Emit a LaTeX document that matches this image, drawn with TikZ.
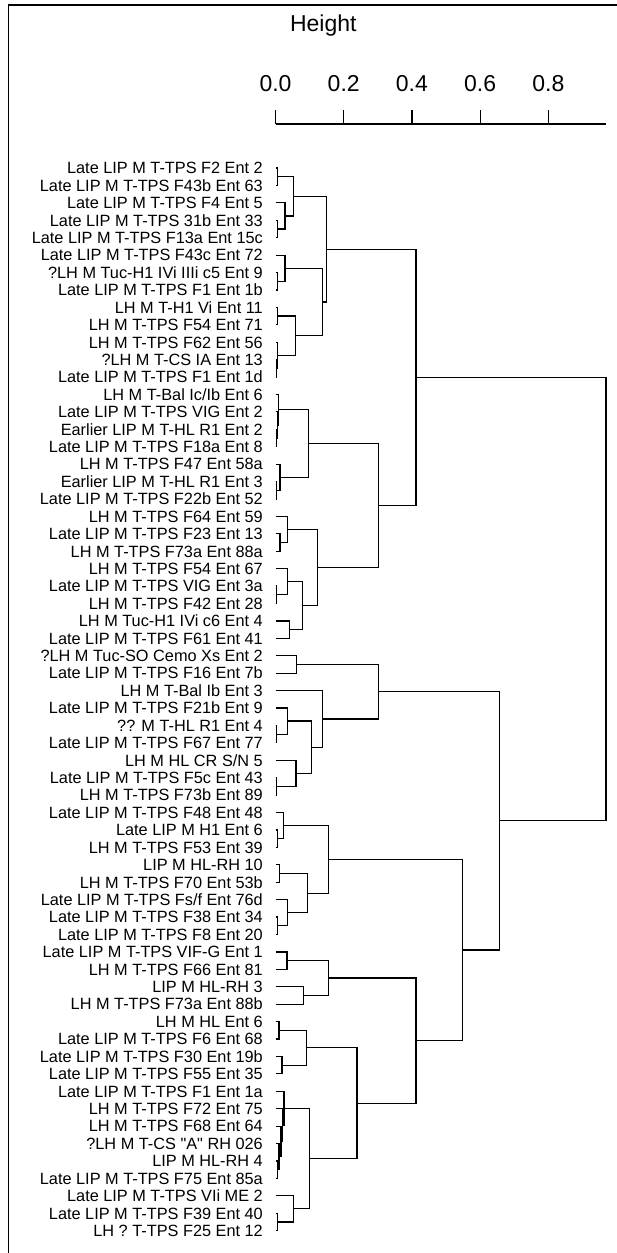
\documentclass[tikz,border=0pt]{standalone}
\usepackage{fontspec}
\setmainfont{Liberation Sans}[Ligatures=TeXOff]
\usepackage{tikz}
\usetikzlibrary{positioning, calc}
\tikzset{
  daun/.style={anchor=east, inner xsep=12.5pt, inner ysep=0pt,
    text height=11.6pt, text depth=0pt, font=\fontsize{16.3}{19}\selectfont},
  cabang/.style={line width=1.2pt, black},
  sumbu/.style={line width=1.2pt, black},
  angka/.style={inner sep=0pt, font=\fontsize{23}{28}\selectfont},
  bingkai/.style={line width=1.8pt, black}
}
\newcommand{\gabung}[4]{%
  \path let \p1=(#2), \p2=(#3) in coordinate (#1) at ({275.5pt+341pt*#4}, {(\y1+\y2)/2});
  \draw[cabang] (#2) -| (#1);
  \draw[cabang] (#3) -| (#1);}

\begin{document}
\begin{tikzpicture}[x=1pt, y=1pt, node distance=17.42pt]
  \useasboundingbox (0,0) rectangle (617,-1253);
  \draw[bingkai] (617,-5) -- (8.5,-5) -- (8.5,-1253);

  \node[angka] (judul) at (323.3,-26) {Height};
  \node[angka] (h0) at (275.5,-83.3) {0.0};
  \node[angka] (h2) at (343.7,-83.3) {0.2};
  \node[angka] (h4) at (411.9,-83.3) {0.4};
  \node[angka] (h6) at (480.1,-83.3) {0.6};
  \node[angka] (h8) at (548.3,-83.3) {0.8};
  \coordinate (s0) at (275.5,-124);
  \coordinate (s1) at (606,-124);
  \draw[sumbu] (s0) -- (s1);
  \draw[sumbu] (s0) -- ++(0,14);
  \draw[sumbu] (343.7,-124) -- ++(0,14);
  \draw[sumbu] (411.9,-124) -- ++(0,14);
  \draw[sumbu] (480.1,-124) -- ++(0,14);
  \draw[sumbu] (548.3,-124) -- ++(0,14);

  \node[daun] (d1) at (275.5,-168) {Late LIP M T-TPS F2 Ent 2};
  \node[below=of d1.east, daun] (d2) {Late LIP M T-TPS F43b Ent 63};
  \node[below=of d2.east, daun] (d3) {Late LIP M T-TPS F4 Ent 5};
  \node[below=of d3.east, daun] (d4) {Late LIP M T-TPS 31b Ent 33};
  \node[below=of d4.east, daun] (d5) {Late LIP M T-TPS F13a Ent 15c};
  \node[below=of d5.east, daun] (d6) {Late LIP M T-TPS F43c Ent 72~};
  \node[below=of d6.east, daun] (d7) {?LH M Tuc-H1 IVi IIIi c5 Ent 9};
  \node[below=of d7.east, daun] (d8) {Late LIP M T-TPS F1 Ent 1b};
  \node[below=of d8.east, daun] (d9) {LH M T-H1 Vi Ent 11};
  \node[below=of d9.east, daun] (d10) {LH M T-TPS F54 Ent 71~};
  \node[below=of d10.east, daun] (d11) {LH M T-TPS F62 Ent 56};
  \node[below=of d11.east, daun] (d12) {?LH M T-CS IA Ent 13};
  \node[below=of d12.east, daun] (d13) {Late LIP M T-TPS F1 Ent 1d};
  \node[below=of d13.east, daun] (d14) {LH M T-Bal Ic/Ib Ent 6};
  \node[below=of d14.east, daun] (d15) {Late LIP M T-TPS VIG Ent 2};
  \node[below=of d15.east, daun] (d16) {Earlier LIP M T-HL R1 Ent 2};
  \node[below=of d16.east, daun] (d17) {Late LIP M T-TPS F18a Ent 8};
  \node[below=of d17.east, daun] (d18) {LH M T-TPS F47 Ent 58a~};
  \node[below=of d18.east, daun] (d19) {Earlier LIP M T-HL R1 Ent 3};
  \node[below=of d19.east, daun] (d20) {Late LIP M T-TPS F22b Ent 52~};
  \node[below=of d20.east, daun] (d21) {LH M T-TPS F64 Ent 59};
  \node[below=of d21.east, daun] (d22) {Late LIP M T-TPS F23 Ent 13};
  \node[below=of d22.east, daun] (d23) {LH M T-TPS F73a Ent 88a};
  \node[below=of d23.east, daun] (d24) {LH M T-TPS F54 Ent 67};
  \node[below=of d24.east, daun] (d25) {Late LIP M T-TPS VIG Ent 3a~};
  \node[below=of d25.east, daun] (d26) {LH M T-TPS F42 Ent 28};
  \node[below=of d26.east, daun] (d27) {LH M Tuc-H1 IVi c6 Ent 4~};
  \node[below=of d27.east, daun] (d28) {Late LIP M T-TPS F61 Ent 41};
  \node[below=of d28.east, daun] (d29) {?LH M Tuc-SO Cemo Xs Ent 2};
  \node[below=of d29.east, daun] (d30) {Late LIP M T-TPS F16 Ent 7b};
  \node[below=of d30.east, daun] (d31) {LH M T-Bal Ib Ent 3};
  \node[below=of d31.east, daun] (d32) {Late LIP M T-TPS F21b Ent 9};
  \node[below=of d32.east, daun] (d33) {?? M T-HL R1 Ent 4};
  \node[below=of d33.east, daun] (d34) {Late LIP M T-TPS F67 Ent 77~};
  \node[below=of d34.east, daun] (d35) {LH M HL CR S/N 5};
  \node[below=of d35.east, daun] (d36) {Late LIP M T-TPS F5c Ent 43~};
  \node[below=of d36.east, daun] (d37) {LH M T-TPS F73b Ent 89};
  \node[below=of d37.east, daun] (d38) {Late LIP M T-TPS F48 Ent 48};
  \node[below=of d38.east, daun] (d39) {Late LIP M H1 Ent 6};
  \node[below=of d39.east, daun] (d40) {LH M T-TPS F53 Ent 39~};
  \node[below=of d40.east, daun] (d41) {LIP M HL-RH 10};
  \node[below=of d41.east, daun] (d42) {LH M T-TPS F70 Ent 53b~};
  \node[below=of d42.east, daun] (d43) {Late LIP M T-TPS Fs/f Ent 76d~};
  \node[below=of d43.east, daun] (d44) {Late LIP M T-TPS F38 Ent 34};
  \node[below=of d44.east, daun] (d45) {Late LIP M T-TPS F8 Ent 20};
  \node[below=of d45.east, daun] (d46) {Late LIP M T-TPS VIF-G Ent 1};
  \node[below=of d46.east, daun] (d47) {LH M T-TPS F66 Ent 81~};
  \node[below=of d47.east, daun] (d48) {LIP M HL-RH 3};
  \node[below=of d48.east, daun] (d49) {LH M T-TPS F73a Ent 88b};
  \node[below=of d49.east, daun] (d50) {LH M HL Ent 6};
  \node[below=of d50.east, daun] (d51) {Late LIP M T-TPS F6 Ent 68~};
  \node[below=of d51.east, daun] (d52) {Late LIP M T-TPS F30 Ent 19b};
  \node[below=of d52.east, daun] (d53) {Late LIP M T-TPS F55 Ent 35};
  \node[below=of d53.east, daun] (d54) {Late LIP M T-TPS F1 Ent 1a};
  \node[below=of d54.east, daun] (d55) {LH M T-TPS F72 Ent 75~};
  \node[below=of d55.east, daun] (d56) {LH M T-TPS F68 Ent 64};
  \node[below=of d56.east, daun] (d57) {?LH M T-CS "A" RH 026};
  \node[below=of d57.east, daun] (d58) {LIP M HL-RH 4};
  \node[below=of d58.east, daun] (d59) {Late LIP M T-TPS F75 Ent 85a~};
  \node[below=of d59.east, daun] (d60) {Late LIP M T-TPS VIi ME 2};
  \node[below=of d60.east, daun] (d61) {Late LIP M T-TPS F39 Ent 40};
  \node[below=of d61.east, daun] (d62) {LH ? T-TPS F25 Ent 12};

  \gabung{g1}{d1}{d2}{0.005}
  \gabung{g2}{d4}{d5}{0.005}
  \gabung{g3}{d3}{g2}{0.028}
  \gabung{g4}{g1}{g3}{0.052}
  \gabung{g5}{d7}{d8}{0.005}
  \gabung{g6}{d6}{g5}{0.028}
  \gabung{g7}{d9}{d10}{0.005}
  \gabung{g8}{d12}{d13}{0.002}
  \gabung{g9}{d11}{g8}{0.005}
  \gabung{g10}{g7}{g9}{0.059}
  \gabung{g11}{g6}{g10}{0.137}
  \gabung{g12}{g4}{g11}{0.150}
  \gabung{g13}{d16}{d17}{0.002}
  \gabung{g14}{d15}{g13}{0.005}
  \gabung{g15}{d14}{g14}{0.009}
  \gabung{g16}{d19}{d20}{0.002}
  \gabung{g17}{d18}{g16}{0.013}
  \gabung{g18}{g15}{g17}{0.096}
  \gabung{g19}{d22}{d23}{0.013}
  \gabung{g20}{d21}{g19}{0.035}
  \gabung{g21}{d25}{d26}{0.002}
  \gabung{g22}{d24}{g21}{0.035}
  \gabung{g23}{d27}{d28}{0.040}
  \gabung{g24}{g22}{g23}{0.079}
  \gabung{g25}{g20}{g24}{0.123}
  \gabung{g26}{g18}{g25}{0.301}
  \gabung{g27}{g12}{g26}{0.412}
  \gabung{g28}{d29}{d30}{0.062}
  \gabung{g29}{d33}{d34}{0.002}
  \gabung{g30}{d32}{g29}{0.035}
  \gabung{g31}{d36}{d37}{0.002}
  \gabung{g32}{d35}{g31}{0.060}
  \gabung{g33}{g30}{g32}{0.106}
  \gabung{g34}{d31}{g33}{0.137}
  \gabung{g35}{g28}{g34}{0.301}
  \gabung{g36}{d39}{d40}{0.005}
  \gabung{g37}{d38}{g36}{0.023}
  \gabung{g38}{d41}{d42}{0.011}
  \gabung{g39}{d44}{d45}{0.005}
  \gabung{g40}{d43}{g39}{0.035}
  \gabung{g41}{g38}{g40}{0.093}
  \gabung{g42}{g37}{g41}{0.155}
  \gabung{g43}{d46}{d47}{0.034}
  \gabung{g44}{d48}{d49}{0.082}
  \gabung{g45}{g43}{g44}{0.155}
  \gabung{g46}{d50}{d51}{0.010}
  \gabung{g47}{d52}{d53}{0.019}
  \gabung{g48}{g46}{g47}{0.090}
  \gabung{g49}{d58}{d59}{0.005}
  \gabung{g50}{d57}{g49}{0.010}
  \gabung{g51}{d56}{g50}{0.016}
  \gabung{g52}{d55}{g51}{0.020}
  \gabung{g53}{d54}{g52}{0.025}
  \gabung{g54}{d61}{d62}{0.005}
  \gabung{g55}{d60}{g54}{0.053}
  \gabung{g56}{g53}{g55}{0.099}
  \gabung{g57}{g48}{g56}{0.239}
  \gabung{g58}{g45}{g57}{0.412}
  \gabung{g59}{g42}{g58}{0.548}
  \gabung{g60}{g35}{g59}{0.658}
  \gabung{g61}{g27}{g60}{0.969}
\end{tikzpicture}
\end{document}
